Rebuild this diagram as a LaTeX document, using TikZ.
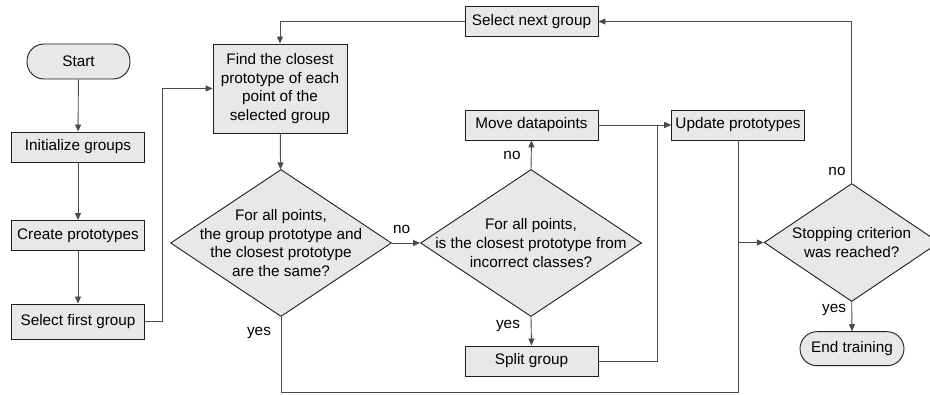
\documentclass[tikz,border=0pt]{standalone}
\usepackage{fontspec}
\setmainfont{Liberation Sans}
\usetikzlibrary{arrows.meta,shapes.geometric,calc}
\definecolor{boxfill}{HTML}{E8E8E8}
\definecolor{boxline}{HTML}{1E1E1E}
\definecolor{conn}{HTML}{4A4A4A}
\begin{document}
\begin{tikzpicture}[x=1pt,y=-1pt,
  every node/.style={font=\fontsize{15.3}{18.8}\selectfont},
  procbox/.style={draw=boxline,fill=boxfill,line width=0.9pt,inner sep=0pt,
    minimum width=133pt,minimum height=30pt,align=center},
  termbox/.style={draw=boxline,fill=boxfill,line width=0.9pt,inner sep=0pt,
    minimum width=103pt,minimum height=35pt,rounded corners=17pt},
  decbox/.style={diamond,draw=boxline,fill=boxfill,line width=0.9pt,inner sep=0pt,
    minimum width=221pt,minimum height=147pt},
  dectext/.style={align=center,inner sep=0pt},
  lbl/.style={inner sep=0pt},
  arr/.style={draw=conn,line width=0.9pt,-{Triangle[length=7pt,width=6pt]}},
  ln/.style={draw=conn,line width=0.9pt}]
\useasboundingbox (0,0) rectangle (930,395);

% nodes
\node[termbox] (start) at (78.5,61.5) {Start};
\node[procbox] (init) at (78,147) {Initialize groups};
\node[procbox] (create) at (78,235.5) {Create prototypes};
\node[procbox,minimum height=35pt] (sfirst) at (78,321.5) {Select first group};
\node[procbox,minimum width=134pt,minimum height=89pt] (find) at (280,88.5)
  {Find the closest\\prototype of each\\point of the\\selected group};
\node[procbox] (snext) at (531.5,21.5) {Select next group};
\node[procbox] (move) at (531.5,125) {Move datapoints};
\node[procbox] (split) at (531.5,361) {Split group};
\node[procbox] (update) at (738,125) {Update prototypes};

\node[decbox] (d1) at (281,243) {};
\node[dectext] at (d1) {For all points,\\the group prototype and\\the closest prototype\\are the same?};
\node[decbox] (d2) at (531,243) {};
\node[dectext] at (d2) {For all points,\\is the closest prototype from\\incorrect classes?};
\node[decbox,minimum width=175pt,minimum height=118pt] (d3) at (851.7,242.5) {};
\node[dectext] at (d3) {Stopping criterion\\was reached?};

\node[termbox,minimum width=104pt,minimum height=34pt] (endt) at (852,348.7) {End training};

% labels
\node[lbl] (l1) at (259,332.5) {yes};
\node[lbl] (l2) at (401.7,229) {no};
\node[lbl] (l3) at (512,155.7) {no};
\node[lbl] (l4) at (508,326) {yes};
\node[lbl] (l5) at (837,171.7) {no};
\node[lbl] (l6) at (834,310) {yes};

\coordinate (j) at (update.south |- d3.west);

% connectors
\draw[arr] (start) -- (init);
\draw[arr] (init) -- (create);
\draw[arr] (create) -- (sfirst);
\draw[arr] (sfirst.east) -- ++(17.5,0) |- (find.west);
\draw[arr] (find) -- (d1);
\draw[arr] (d1.east) -- (d2.west);
\draw[arr] (d2.north) -- (move.south);
\draw[arr] (d2.south) -- (split.north);
\draw[arr] (move.east) -- (update.west);
\draw[arr] (split.east) -- ++(58.7,0) |- (update.west);
\draw[ln] (update.south) -- (j);
\draw[ln] (d1.south) -- ++(0,75.3) -| (j);
\draw[arr] (j) -- (d3.west);
\draw[arr] (d3.north) |- (snext.east);
\draw[arr] (snext.west) -| (find.north);
\draw[arr] (d3.south) -- (endt.north);
\end{tikzpicture}
\end{document}
